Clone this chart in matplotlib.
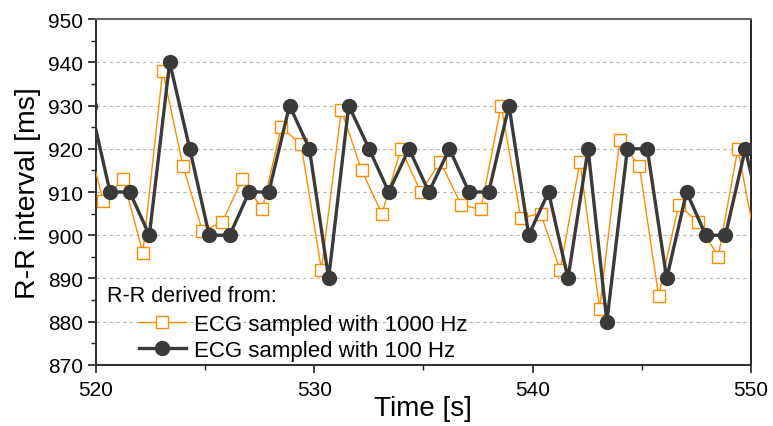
import matplotlib
matplotlib.use("Agg")
import matplotlib.pyplot as plt
from matplotlib.ticker import MultipleLocator

plt.rcParams['font.family'] = ['Liberation Sans', 'DejaVu Sans']

# R-R derived from ECG sampled with 1000 Hz
t_1000 = [519.42, 520.33, 521.25, 522.15, 523.06, 523.99, 524.88, 525.79, 526.70, 527.62,
          528.49, 529.40, 530.33, 531.24, 532.17, 533.10, 533.97, 534.88, 535.77, 536.73,
          537.63, 538.56, 539.46, 540.37, 541.26, 542.17, 543.07, 543.99, 544.89, 545.77,
          546.69, 547.58, 548.50, 549.40, 550.30]
rr_1000 = [926, 908, 913, 896, 938, 916, 901, 903, 913, 906,
           925, 921, 892, 929, 915, 905, 920, 910, 917, 907,
           906, 930, 904, 905, 892, 917, 883, 922, 916, 886,
           907, 903, 895, 920, 896]

# R-R derived from ECG sampled with 100 Hz
t_100 = [519.75, 520.65, 521.55, 522.45, 523.38, 524.30, 525.19, 526.13, 527.02, 527.92,
         528.87, 529.78, 530.66, 531.58, 532.51, 533.41, 534.34, 535.25, 536.19, 537.09,
         537.99, 538.92, 539.82, 540.73, 541.62, 542.54, 543.40, 544.34, 545.25, 546.14,
         547.05, 547.93, 548.83, 549.74, 550.65]
rr_100 = [930, 910, 910, 900, 940, 920, 900, 900, 910, 910,
          930, 920, 890, 930, 920, 910, 920, 910, 920, 910,
          910, 930, 900, 910, 890, 920, 880, 920, 920, 890,
          910, 900, 900, 920, 900]

labels = ["ECG sampled with 1000 Hz", "ECG sampled with 100 Hz"]
legend_title = "R-R derived from:"

fig = plt.figure(figsize=(7.73, 4.27), dpi=100)
ax = fig.add_axes([0.124, 0.143, 0.8475, 0.810])

ax.plot(t_1000, rr_1000, color='#ff8c00', lw=1.0, marker='s', ms=8,
        mfc='white', mec='#ff8c00', mew=1.0, label=labels[0], zorder=3)
ax.plot(t_100, rr_100, color='#3a3a3a', lw=2.4, marker='o', ms=10,
        mfc='#3a3a3a', mec='#3a3a3a', label=labels[1], zorder=4)

ax.set_xlim(520, 550)
ax.set_ylim(870, 950)
ax.xaxis.set_major_locator(MultipleLocator(10))
ax.xaxis.set_minor_locator(MultipleLocator(5))
ax.yaxis.set_major_locator(MultipleLocator(10))
ax.yaxis.set_minor_locator(MultipleLocator(5))
ax.tick_params(axis='both', which='major', direction='out', length=6, width=1.2,
               labelsize=15, color='#222222')
ax.tick_params(axis='x', which='major', pad=5)
ax.tick_params(axis='y', which='major', pad=3)
ax.tick_params(axis='both', which='minor', direction='out', length=3.5, width=1.0,
               color='#222222')
ax.grid(axis='y', which='major', linestyle=(0, (3, 3)), color='#b5b5b5', lw=0.8)
ax.set_axisbelow(True)

for s in ['left', 'bottom']:
    ax.spines[s].set_color('#333333')
    ax.spines[s].set_linewidth(1.5)
ax.spines['top'].set_color('#666666')
ax.spines['top'].set_linewidth(1.5)
ax.spines['right'].set_color('black')
ax.spines['right'].set_linewidth(1.2)

ax.set_xlabel("Time [s]", fontsize=20, labelpad=-3)
ax.set_ylabel("R-R interval [ms]", fontsize=20.5, labelpad=5)

ax.text(0.017, 0.20, legend_title, transform=ax.transAxes, fontsize=15.5,
        ha='left', va='center')
leg = ax.legend(loc='lower left', frameon=False, fontsize=16,
                handlelength=2.1, handletextpad=0.36, labelspacing=0.22,
                borderpad=0.0, borderaxespad=0.0,
                bbox_to_anchor=(0.066, 0.012))

fig.savefig("out.png", dpi=100)
